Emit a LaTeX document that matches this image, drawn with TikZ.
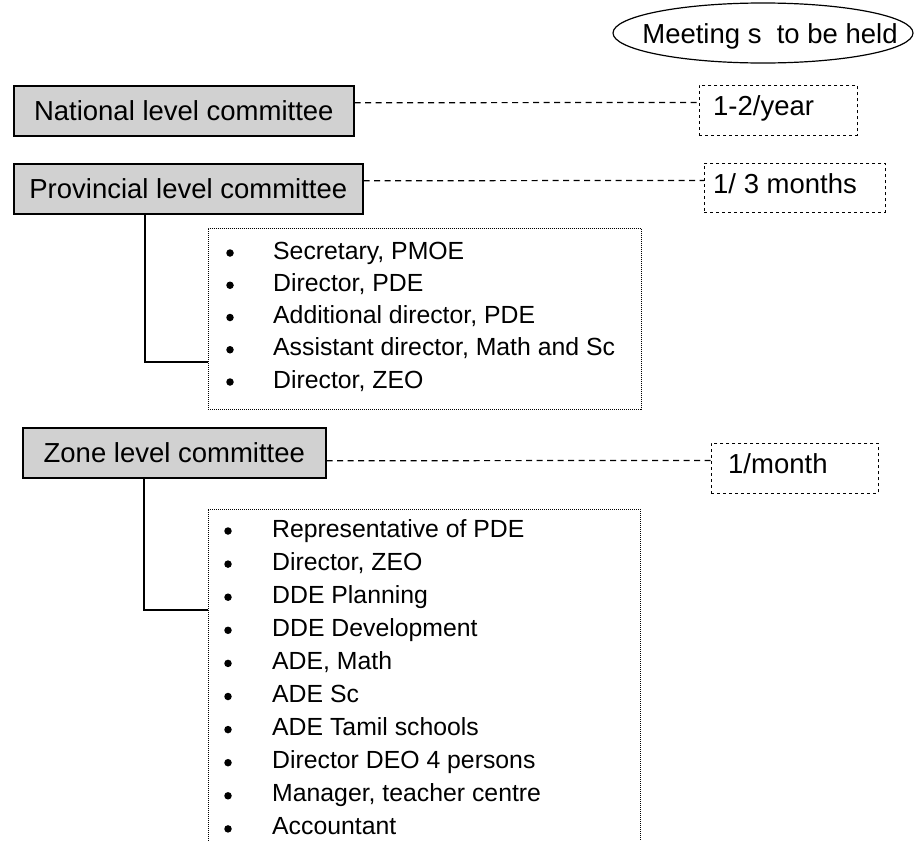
\documentclass[tikz,border=0pt]{standalone}
\usepackage{fontspec}
\setmainfont{Liberation Sans}
\usetikzlibrary{shapes.geometric}
\newcommand\hdrfont{\fontsize{27.5pt}{33pt}\selectfont}
\newcommand\lstfont{\fontsize{24.8pt}{30pt}\selectfont}
\begin{document}
\begin{tikzpicture}[x=1pt,y=-1pt,
  hdrbox/.style={draw=black, line width=1.6pt, fill=black!18, minimum height=50pt, inner sep=0pt, anchor=north west, font=\hdrfont},
  freqbox/.style={draw=black, line width=0.8pt, dash pattern=on 3pt off 3pt, minimum height=50pt, inner sep=0pt, anchor=north west},
  freqtext/.style={anchor=base west, inner sep=0pt, font=\hdrfont},
  listbox/.style={draw=black, line width=0.8pt, dash pattern=on 1pt off 1pt, inner sep=0pt, anchor=north west},
  listline/.style={draw=black, line width=0.8pt, dash pattern=on 1pt off 1pt},
  bul/.style={circle, fill=black, inner sep=0pt, minimum size=7.5pt},
  itm/.style={anchor=base west, inner sep=0pt, font=\lstfont},
  conn/.style={draw=black, line width=1.2pt, dash pattern=on 6pt off 4.5pt},
  tree/.style={draw=black, line width=1.2pt},
  meetell/.style={draw=black, ellipse, line width=1.2pt, minimum width=300pt, minimum height=60pt, inner sep=0pt}
]
\useasboundingbox (0,0) rectangle (914,841);

% heading ellipse
\node[meetell] (meet) at (763,33) {};
\node[font=\hdrfont, anchor=base, inner sep=0pt] (meettext) at (770,43) {Meeting s~~to be held};

% committee boxes
\node[hdrbox, minimum width=340pt] (nat) at (13,85) {National level committee};
\node[hdrbox, minimum width=349pt] (prov) at (13,163) {Provincial level committee};
\node[hdrbox, minimum width=303pt] (zone) at (22,427) {Zone level committee};

% frequency boxes
\node[freqbox, minimum width=158pt] (f1) at (699,85) {};
\node[freqtext] (f1t) at (713,115) {1-2/year};
\node[freqbox, minimum width=181pt, minimum height=49pt] (f2) at (704,163) {};
\node[freqtext] (f2t) at (713,193) {1/ 3 months};
\node[freqbox, minimum width=167pt] (f3) at (711,443) {};
\node[freqtext] (f3t) at (728,473) {1/month};

% dashed connectors
\draw[conn] ([yshift=8pt]nat.east) -- ([yshift=8pt]f1.west);
\draw[conn] ([yshift=8pt]prov.east) -- ([yshift=7.5pt]f2.west);
\draw[conn] ([yshift=-8pt]zone.east) -- ([yshift=8pt]f3.west);

% provincial members
\node[listbox, minimum width=433pt, minimum height=181pt] (plist) at (208,228) {};
\foreach \t [count=\i] in {{Secretary, PMOE},{Director, PDE},{Additional director, PDE},{Assistant director, Math and Sc},{Director, ZEO}} {
  \node[bul] (pb\i) at (230, {253+32.25*(\i-1)}) {};
  \node[itm] (pi\i) at (273, {259+32.25*(\i-1)}) {\t};
}
\coordinate (pj) at (145,362);
\draw[tree] (prov.south -| pj) -- (pj) -- (plist.west |- pj);

% zone members
\coordinate (zl1) at (208,845);
\coordinate (zl2) at (640,509);
\draw[listline] (zl1) |- (zl2) -- (zl2 |- zl1);
\foreach \t [count=\i] in {{Representative of PDE},{Director, ZEO},{DDE Planning},{DDE Development},{ADE, Math},{ADE Sc},{ADE Tamil schools},{Director DEO 4 persons},{Manager, teacher centre},{Accountant}} {
  \node[bul] (zb\i) at (228, {531+33.1*(\i-1)}) {};
  \node[itm] (zi\i) at (272, {537+33.1*(\i-1)}) {\t};
}
\coordinate (zj) at (144,610);
\draw[tree] (zone.south -| zj) -- (zj) -- (zl1 |- zj);
\end{tikzpicture}
\end{document}
